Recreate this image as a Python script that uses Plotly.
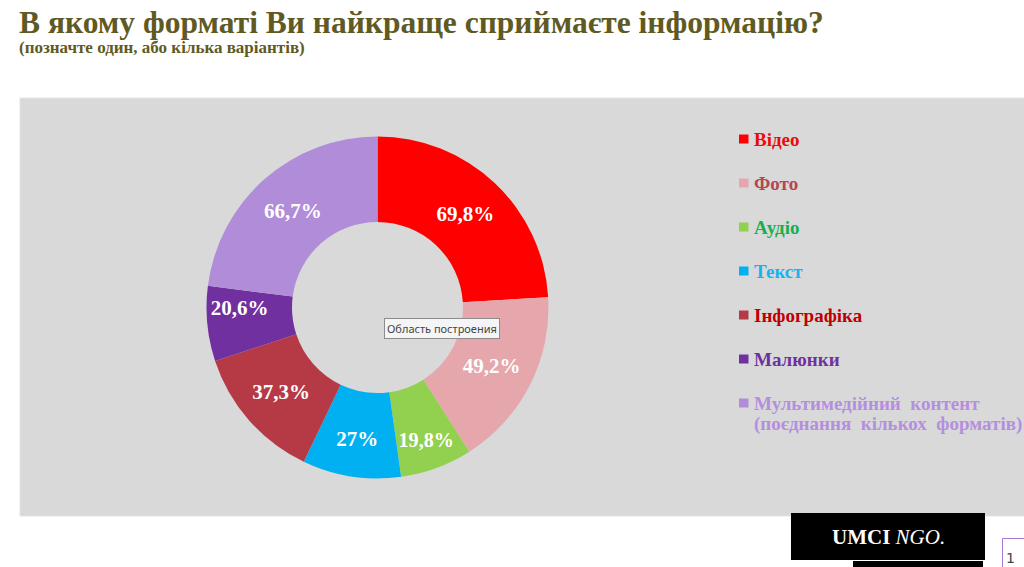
import plotly.graph_objects as go

# ---- data ----
categories = ["Відео", "Фото", "Аудіо", "Текст", "Інфографіка", "Малюнки",
              "Мультимедійний контент (поєднання кількох форматів)"]
values = [69.8, 49.2, 19.8, 27, 37.3, 20.6, 66.7]
legend_lines = [["Відео"], ["Фото"], ["Аудіо"], ["Текст"], ["Інфографіка"], ["Малюнки"],
                ["Мультимедійний  контент", "(поєднання  кількох  форматів)"]]
slice_colors = ["#ff0000", "#e5a7ac", "#92d050", "#00b0f0", "#b53a46", "#7030a0", "#b08cd9"]
legend_text_colors = ["#ee0a0a", "#b5464e", "#17b04f", "#19b2ee", "#c00000", "#7030a0", "#b58ee0"]
title_text = "В якому форматі Ви найкраще сприймаєте інформацію?"
subtitle_text = "(позначте один, або кілька варіантів)"

W, H = 1024, 567
def fx(px): return px / W
def fy(py): return 1 - py / H

SERIF = "Liberation Serif"

labels_txt = ["<b>" + ("%g" % v).replace(".", ",") + "%</b>" for v in values]

fig = go.Figure()
fig.add_trace(go.Pie(
    labels=categories, values=values, text=labels_txt, textinfo="text",
    textposition="inside", insidetextorientation="horizontal",
    textfont=dict(family=SERIF, size=21, color="white"),
    hole=0.5, sort=False, direction="clockwise", rotation=0,
    marker=dict(colors=slice_colors, line=dict(width=0)),
    domain=dict(x=[fx(206.5), fx(548.5)], y=[fy(478.5), fy(136.5)]),
    showlegend=False, hoverinfo="skip",
))

shapes = [
    dict(type="rect", xref="paper", yref="paper", x0=fx(20), x1=fx(1030), y0=fy(516), y1=fy(98),
         fillcolor="#d9d9d9", line=dict(color="#e4e4e4", width=1), layer="below"),
    dict(type="rect", xref="paper", yref="paper", x0=fx(791), x1=fx(985), y0=fy(560), y1=fy(513),
         fillcolor="black", line=dict(width=0)),
    dict(type="rect", xref="paper", yref="paper", x0=fx(853), x1=fx(983), y0=fy(568), y1=fy(561),
         fillcolor="black", line=dict(width=0)),
    dict(type="rect", xref="paper", yref="paper", x0=fx(1002.5), x1=fx(1030), y0=fy(570), y1=fy(538.5),
         fillcolor="white", line=dict(color="#a57ad6", width=1)),
]

annotations = [
    dict(x=fx(17), y=fy(22), xref="paper", yref="paper", xanchor="left", yanchor="middle",
         text="<b>" + title_text + "</b>", showarrow=False,
         font=dict(family=SERIF, size=31.5, color="#5f5a23")),
    dict(x=fx(17), y=fy(47), xref="paper", yref="paper", xanchor="left", yanchor="middle",
         text="<b>" + subtitle_text + "</b>", showarrow=False,
         font=dict(family=SERIF, size=17, color="#5f5a23")),
    dict(x=fx(888), y=fy(537), xref="paper", yref="paper", xanchor="center", yanchor="middle",
         text="<b>UMCI</b> <i>NGO.</i>", showarrow=False,
         font=dict(family=SERIF, size=21, color="white")),
    dict(x=fx(1010), y=fy(558), xref="paper", yref="paper", xanchor="center", yanchor="middle",
         text="1", showarrow=False, font=dict(family="DejaVu Sans", size=14, color="#444")),
    dict(x=fx(442), y=fy(328), xref="paper", yref="paper", xanchor="center", yanchor="middle",
         text="Область построения", showarrow=False,
         font=dict(family="Noto Sans", size=11, color="#444"),
         bgcolor="#f5f5f8", bordercolor="#8c8c8c", borderwidth=1, borderpad=2),
]

y0, dy, line_dy = 139, 44, 21
for i, (lines, sc, tc) in enumerate(zip(legend_lines, slice_colors, legend_text_colors)):
    yc = y0 + i * dy
    shapes.append(dict(type="rect", xref="paper", yref="paper",
                       x0=fx(739), x1=fx(748.5), y0=fy(yc + 4.5), y1=fy(yc - 4.5),
                       fillcolor=sc, line=dict(width=0)))
    for j, ln in enumerate(lines):
        annotations.append(dict(x=fx(752), y=fy(yc + j * line_dy), xref="paper", yref="paper",
                                xanchor="left", yanchor="middle", text="<b>" + ln + "</b>",
                                showarrow=False, font=dict(family=SERIF, size=19, color=tc)))

fig.update_layout(
    width=W, height=H, margin=dict(l=0, r=0, t=0, b=0),
    paper_bgcolor="white", plot_bgcolor="white",
    shapes=shapes, annotations=annotations,
)
fig.write_html("out.html")
